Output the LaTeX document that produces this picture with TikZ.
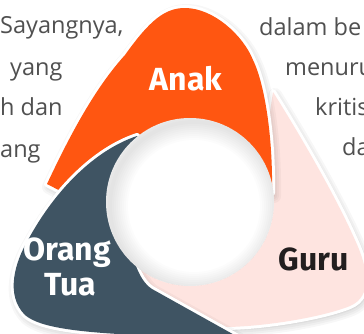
\documentclass[tikz,border=0pt]{standalone}
\usepackage{fontspec}
\newfontfamily\bodyfont{Open Sans}
\newfontfamily\labelfont{Fira Sans}
\definecolor{petalorange}{RGB}{255,86,17}
\definecolor{petalpink}{RGB}{254,228,224}
\definecolor{petaldark}{RGB}{63,84,99}
\definecolor{gurutext}{RGB}{34,30,31}
\definecolor{bodygray}{RGB}{80,80,80}
\newcommand\orangepath{(47,184) .. controls (70,135) and (95,88) .. (125,55) .. controls (150,20) and (165,8) .. (185,8) .. controls (213,8) and (243,35) .. (253,60) .. controls (263,80) and (273,130) .. (272,193) -- (190,202) -- (107,215) -- cycle}
\newcommand\pinkpath{(273,92) .. controls (300,135) and (335,195) .. (355,240) .. controls (368,268) and (373,296) .. (350,306) .. controls (320,318) and (260,327) .. (224,327) -- (190,326) -- (130,290) -- (150,240) -- (255,188) -- (266,140) -- cycle}
\newcommand\darkpath{(137,136) .. controls (95,150) and (55,190) .. (28,240) .. controls (15,262) and (5,295) .. (25,315) .. controls (40,328) and (80,333) .. (160,336) -- (290,366) -- (152,289) .. controls (144,284) and (139,274) .. (136,266) -- (190,202) -- cycle}
\newcommand\petalshape[2]{%
  \begin{scope}[shift={(2,3)}]
    \foreach \w in {14,10,6,2} \draw[black, opacity=.03, line width=\w pt, line join=round] #1;
    \fill[black, opacity=.04] #1;
  \end{scope}
  \draw[white, line width=6pt, line join=round] #1;
  \fill[#2] #1;
}
\tikzset{
  lab/.style={font=\labelfont\bfseries\fontsize{32}{32}\selectfont, anchor=base, inner sep=0pt},
  body/.style={font=\bodyfont\fontsize{23.5}{23.5}\selectfont, text=bodygray, anchor=base west, inner sep=0pt}
}
\begin{document}
\begin{tikzpicture}[x=1pt,y=-1pt]
\useasboundingbox (0,0) rectangle (364,333);
\clip (0,0) rectangle (364,333);
\fill[white] (0,0) rectangle (364,333);
% surrounding text
\node[body] (t1) at (0,33) {Sayangnya,};
\node[body] (t2) at (10,75) {yang};
\node[body] (t3) at (0,115) {h dan};
\node[body] (t4) at (0,157) {ang};
\node[body] (t5) at (259,35) {dalam be};
\node[body] (t6) at (285,75) {menuru};
\node[body] (t7) at (315,115) {kritis};
\node[body] (t8) at (342,155) {da};
% petals
\petalshape{\pinkpath}{petalpink}
\petalshape{\orangepath}{petalorange}
\petalshape{\darkpath}{petaldark}
% centre circle
\fill[white] (190,202) circle (84pt);
\begin{scope}
  \clip (190,202) circle (84pt);
  \foreach \w in {4,8,...,36} \draw[black, opacity=.012, line width=\w pt] (194,206) circle (84pt);
\end{scope}
% labels
\node[lab, text=white] (anak) at (186,90) {Anak};
\node[lab, text=white] (orang) at (67,260) {Orang};
\node[lab, text=white] (tua) at (70,295) {Tua};
\node[lab, text=gurutext] (guru) at (314,270) {Guru};
\end{tikzpicture}
\end{document}
